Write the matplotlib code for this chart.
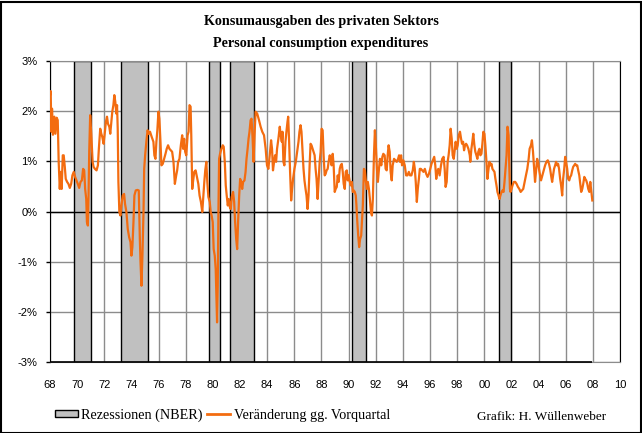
import matplotlib
matplotlib.use("Agg")
import matplotlib.pyplot as plt
from matplotlib.patches import Patch, Rectangle
from matplotlib.lines import Line2D

# %% Data (% change vs previous quarter)

years = [
    1968.00, 1968.05, 1968.10, 1968.15, 1968.22, 1968.32, 1968.40, 1968.49, 1968.57, 1968.64,
    1968.72, 1968.79, 1968.86, 1968.94, 1969.01, 1969.09, 1969.16, 1969.26, 1969.36, 1969.46,
    1969.56, 1969.65, 1969.75, 1969.85, 1969.95, 1970.05, 1970.15, 1970.25, 1970.35, 1970.44,
    1970.52, 1970.59, 1970.67, 1970.72, 1970.79, 1970.84, 1970.89, 1970.96, 1971.04, 1971.14,
    1971.21, 1971.31, 1971.43, 1971.53, 1971.60, 1971.70, 1971.78, 1971.85, 1971.95, 1972.02,
    1972.12, 1972.20, 1972.27, 1972.37, 1972.44, 1972.52, 1972.59, 1972.67, 1972.74, 1972.81,
    1972.89, 1972.94, 1972.99, 1973.04, 1973.11, 1973.19, 1973.26, 1973.36, 1973.46, 1973.53,
    1973.63, 1973.73, 1973.83, 1973.93, 1974.00, 1974.07, 1974.15, 1974.22, 1974.32, 1974.44,
    1974.54, 1974.62, 1974.67, 1974.74, 1974.81, 1974.89, 1974.94, 1975.01, 1975.11, 1975.19,
    1975.28,
    1975.37, 1975.49, 1975.62, 1975.69, 1975.77, 1975.84, 1975.91, 1975.99, 1976.06, 1976.14,
    1976.21, 1976.31, 1976.41, 1976.51, 1976.60, 1976.70, 1976.80, 1976.90, 1977.00, 1977.10,
    1977.20, 1977.30, 1977.37, 1977.44, 1977.54, 1977.64, 1977.74, 1977.81, 1977.89, 1977.96,
    1978.04, 1978.14, 1978.21, 1978.28, 1978.36, 1978.41, 1978.48, 1978.55, 1978.63, 1978.73,
    1978.83, 1978.93, 1979.02, 1979.12, 1979.22, 1979.30, 1979.37, 1979.44, 1979.52, 1979.59,
    1979.67, 1979.77, 1979.84, 1979.91, 1979.99, 1980.06, 1980.14, 1980.21, 1980.26, 1980.31,
    1980.36, 1980.41, 1980.46, 1980.53, 1980.63, 1980.73, 1980.80, 1980.88, 1980.95, 1981.02,
    1981.10, 1981.17, 1981.25, 1981.32, 1981.39, 1981.49, 1981.57, 1981.64, 1981.72, 1981.79,
    1981.86, 1981.94, 1982.01, 1982.09, 1982.16, 1982.23, 1982.33, 1982.41, 1982.48, 1982.56,
    1982.63, 1982.70, 1982.78, 1982.85, 1982.93, 1983.00, 1983.07,
    1983.15, 1983.27, 1983.40, 1983.52, 1983.64, 1983.77, 1983.89, 1983.99, 1984.09, 1984.19,
    1984.29, 1984.36, 1984.43, 1984.51, 1984.58, 1984.66, 1984.73, 1984.83, 1984.93, 1985.00,
    1985.08, 1985.13, 1985.20, 1985.27, 1985.35, 1985.42, 1985.50, 1985.55, 1985.62, 1985.69,
    1985.77, 1985.84, 1985.91, 1986.01, 1986.11, 1986.21, 1986.31, 1986.38, 1986.46, 1986.53,
    1986.61, 1986.68, 1986.75, 1986.83, 1986.90, 1986.98, 1987.05, 1987.13, 1987.20, 1987.27,
    1987.35, 1987.42, 1987.50, 1987.57, 1987.64, 1987.72, 1987.79, 1987.87, 1987.94, 1988.01,
    1988.09, 1988.16, 1988.24, 1988.31, 1988.38, 1988.46, 1988.53, 1988.61, 1988.68, 1988.75,
    1988.83, 1988.90, 1988.98, 1989.05, 1989.13, 1989.20, 1989.27, 1989.35, 1989.42, 1989.50,
    1989.57, 1989.64, 1989.72, 1989.79, 1989.87, 1989.94, 1990.01, 1990.09, 1990.16, 1990.24,
    1990.31, 1990.38, 1990.46, 1990.53, 1990.58, 1990.63, 1990.71, 1990.78, 1990.85, 1990.93,
    1991.00,
    1991.05, 1991.13, 1991.20, 1991.28, 1991.35, 1991.42, 1991.50, 1991.57, 1991.65, 1991.72,
    1991.79, 1991.87, 1991.94, 1992.02, 1992.09, 1992.16, 1992.24, 1992.31, 1992.41, 1992.49,
    1992.56, 1992.66, 1992.73, 1992.81, 1992.88, 1992.95, 1993.03, 1993.10, 1993.18, 1993.25,
    1993.35, 1993.45, 1993.55, 1993.65, 1993.72, 1993.79, 1993.87, 1993.94, 1994.04, 1994.14,
    1994.24, 1994.34, 1994.44, 1994.53, 1994.63, 1994.73, 1994.81, 1994.88, 1994.95, 1995.03,
    1995.10, 1995.18, 1995.25, 1995.33, 1995.42, 1995.52, 1995.62, 1995.72, 1995.82, 1995.92,
    1996.02, 1996.11, 1996.21, 1996.31, 1996.39, 1996.46, 1996.53, 1996.61, 1996.71, 1996.81,
    1996.90, 1997.00, 1997.08, 1997.15, 1997.23, 1997.30, 1997.37, 1997.45, 1997.52, 1997.60,
    1997.67, 1997.75, 1997.82, 1997.89, 1997.97, 1998.04, 1998.12, 1998.21, 1998.29, 1998.36,
    1998.44, 1998.51, 1998.58, 1998.66, 1998.73, 1998.83, 1998.93,
    1998.97, 1999.05, 1999.12, 1999.19, 1999.27, 1999.34, 1999.42, 1999.49, 1999.56, 1999.64,
    1999.71, 1999.79, 1999.86, 1999.93, 2000.01, 2000.08, 2000.16, 2000.23, 2000.30, 2000.38,
    2000.45, 2000.53, 2000.60, 2000.68, 2000.75, 2000.82, 2000.90, 2000.97, 2001.05, 2001.12,
    2001.19, 2001.27, 2001.34, 2001.42, 2001.49, 2001.56, 2001.64, 2001.71, 2001.79, 2001.84,
    2001.89, 2001.93, 2002.01, 2002.08, 2002.18, 2002.28, 2002.38, 2002.48, 2002.58, 2002.68,
    2002.77, 2002.87, 2002.97, 2003.07, 2003.17, 2003.27, 2003.34, 2003.44, 2003.51, 2003.59,
    2003.66, 2003.74, 2003.81, 2003.89, 2003.96, 2004.03, 2004.11, 2004.18, 2004.28, 2004.38,
    2004.48, 2004.58, 2004.68, 2004.77, 2004.85, 2004.92, 2005.00, 2005.07, 2005.14, 2005.22,
    2005.29, 2005.37, 2005.44, 2005.51, 2005.59, 2005.66, 2005.74, 2005.81, 2005.89, 2005.96,
    2006.03, 2006.11, 2006.18, 2006.26, 2006.33, 2006.40, 2006.48, 2006.55, 2006.63, 2006.70,
    2006.77, 2006.85, 2006.92, 2007.00, 2007.07, 2007.14, 2007.22, 2007.29, 2007.37, 2007.44,
    2007.51, 2007.59, 2007.66, 2007.74, 2007.81, 2007.89, 2007.96,
]

change = [
    2.32, 2.40, 1.59, 2.05, 1.53, 1.89, 1.55, 1.87, 1.82, 0.99,
    0.45, 0.79, 0.45, 1.12, 1.12, 0.89, 0.65, 0.59, 0.55, 0.47,
    0.55, 0.72, 0.79, 0.69, 0.62, 0.55, 0.47, 0.59, 0.62, 0.85,
    0.82, 0.45, 0.25, -0.21, -0.28, 0.32, 1.19, 1.92, 1.55, 0.99,
    0.89, 0.85, 0.82, 0.92, 1.25, 1.65, 1.55, 1.49, 1.35, 1.52,
    1.79, 1.89, 1.75, 1.69, 1.55, 1.79, 1.99, 2.12, 2.32, 2.19,
    1.95, 2.12, 1.65, 0.59, -0.01, -0.08, 0.12, 0.32, 0.35, 0.15,
    -0.01, -0.35, -0.51, -0.61, -0.88, -0.71, -0.21, 0.32, 0.42, 0.43,
    0.42, -0.55, -1.01, -1.48, -0.88, -0.01, 0.85, 1.12, 1.42, 1.62,
    1.55,
    1.59, 1.49, 1.39, 1.12, 1.05, 1.39, 1.62, 1.99, 1.85, 1.39,
    0.92, 0.95, 1.05, 1.15, 1.25, 1.32, 1.25, 1.22, 1.19, 0.99,
    0.55, 0.72, 0.82, 0.99, 1.05, 1.32, 1.52, 1.25, 1.45, 1.19,
    1.12, 1.52, 1.59, 2.12, 2.09, 1.52, 0.45, 0.62, 0.79, 0.82,
    0.69, 0.55, 0.32, 0.19, -0.01, 0.32, 0.59, 0.82, 0.99, 0.59,
    0.29, 0.19, -0.01, -0.08, -0.21, -0.75, -0.88, -1.15, -1.68, -2.21,
    -1.48, -0.01, 1.05, 1.15, 1.25, 1.32, 1.29, 0.99, 0.52, 0.32,
    0.12, 0.25, 0.09, 0.05, 0.29, 0.39, 0.19, -0.21, -0.55, -0.75,
    -0.21, 0.32, 0.65, 0.59, 0.45, 0.59, 0.62, 0.79, 1.05, 1.25,
    1.45, 1.59, 1.82, 1.85, 1.45, 0.99, 1.52,
    1.99, 1.95, 1.82, 1.69, 1.59, 1.52, 1.25, 0.92, 0.85, 1.12,
    1.42, 1.25, 0.82, 0.99, 1.12, 0.99, 1.25, 1.45, 1.69, 1.52,
    1.39, 1.59, 0.99, 0.92, 1.39, 1.59, 1.79, 1.89, 1.39, 0.79,
    0.22, 0.45, 0.65, 0.85, 0.99, 1.19, 1.39, 1.59, 1.72, 1.59,
    1.19, 0.85, 0.62, 0.45, 0.32, 0.05, 0.32, 0.92, 1.35, 1.32,
    1.25, 1.19, 1.12, 0.85, 0.65, 0.25, 0.59, 0.99, 1.19, 1.65,
    1.62, 1.12, 0.72, 0.75, 0.82, 0.85, 0.99, 1.12, 1.05, 0.92,
    1.15, 0.92, 0.39, 0.45, 0.49, 0.72, 0.59, 0.85, 0.92, 0.95,
    0.79, 0.55, 0.45, 0.79, 0.82, 0.62, 0.72, 0.59, 0.52, 0.59,
    0.39, 0.42, 0.39, 0.32, 0.12, -0.15, -0.48, -0.71, -0.55, -0.48,
    -0.15,
    0.12, 0.85, 0.82, 0.59, 0.45, 0.59, 0.45, 0.25, -0.01, -0.08,
    0.25, 1.12, 1.62, 1.25, 0.85, 0.59, 0.85, 1.05, 0.92, 1.09,
    1.15, 1.12, 0.85, 0.82, 1.12, 1.32, 1.19, 0.79, 0.62, 0.92,
    1.05, 1.02, 0.99, 1.05, 1.12, 0.99, 1.12, 0.92, 1.02, 0.92,
    0.72, 0.72, 0.79, 0.72, 0.72, 0.82, 0.99, 0.85, 0.59, 0.19,
    0.45, 0.65, 0.85, 0.85, 0.82, 0.79, 0.85, 0.75, 0.69, 0.75,
    0.85, 0.95, 1.02, 1.09, 0.92, 0.65, 0.79, 0.85, 0.72, 0.92,
    1.05, 1.09, 0.85, 0.49, 0.59, 0.99, 1.12, 1.32, 1.65, 1.45,
    1.12, 1.05, 1.22, 1.39, 1.25, 1.32, 1.52, 1.59, 1.45, 1.35,
    1.39, 1.22, 1.32, 1.35, 1.32, 1.25, 1.12,
    0.99, 1.25, 1.39, 1.55, 1.32, 1.19, 1.12, 1.05, 1.19, 1.25,
    1.12, 1.15, 1.35, 1.59, 1.55, 1.32, 0.99, 0.65, 0.82, 0.99,
    0.92, 0.95, 0.85, 0.82, 0.79, 0.65, 0.52, 0.39, 0.32, 0.25,
    0.32, 0.39, 0.42, 0.39, 0.59, 0.85, 1.12, 1.69, 1.52, 0.92,
    0.45, 0.39, 0.45, 0.52, 0.59, 0.59, 0.55, 0.49, 0.45, 0.39,
    0.42, 0.45, 0.59, 0.72, 0.85, 1.05, 1.25, 1.32, 1.42, 1.19,
    0.92, 0.59, 0.79, 1.05, 0.99, 0.85, 0.72, 0.62, 0.72, 0.82,
    0.92, 0.99, 1.02, 0.95, 0.85, 0.72, 0.59, 0.72, 0.85, 0.92,
    0.99, 0.92, 0.95, 0.85, 0.65, 0.52, 0.32, 0.65, 0.85, 1.09,
    0.99, 0.85, 0.65, 0.62, 0.69, 0.72, 0.82, 0.89, 0.92, 0.95,
    0.92, 0.92, 0.82, 0.72, 0.55, 0.39, 0.45, 0.55, 0.69, 0.65,
    0.62, 0.55, 0.45, 0.39, 0.59, 0.39, 0.22,
]

# NBER recessions as drawn in the chart
rec_start = [1969.8, 1973.25, 1979.75, 1981.25, 1990.28, 2001.05]
rec_end = [1971.0, 1975.22, 1980.5, 1983.0, 1991.25, 2002.0]

x_ticks = list(range(1968, 2011, 2))
y_ticks = [3, 2, 1, 0, -1, -2, -3]

title1 = "Konsumausgaben des privaten Sektors"
title2 = "Personal consumption expenditures"
label_rec = "Rezessionen (NBER)"
label_line = "Veränderung gg. Vorquartal"
credit = "Grafik: H. Wüllenweber"

orange = "#f36c10"
grid_grey = "#8c8c8c"
rec_grey = "#c0c0c0"
serif = "Liberation Serif"
sans = "Liberation Sans"

# %% Figure

W, H = 642, 433
fig = plt.figure(figsize=(W / 100, H / 100), dpi=100)
fig.patch.set_facecolor("white")
fig.patches.append(Rectangle((0.5 / W, 0.5 / H), 1 - 2 / W, 1 - 2 / H,
                             transform=fig.transFigure, fill=False,
                             edgecolor="black", linewidth=1.5))

ax = fig.add_axes([50 / W, 1 - 362 / H, 570 / W, 301 / H])
ax.set_xlim(1968, 2010)
ax.set_ylim(-3, 3)

# grid
for y in y_ticks:
    ax.axhline(y, color=grid_grey, linewidth=1, zorder=1)
for x in x_ticks:
    ax.axvline(x, color=grid_grey, linewidth=1, zorder=1)

# recessions
for a, b in zip(rec_start, rec_end):
    ax.axvspan(a, b, facecolor=rec_grey, edgecolor="black", linewidth=1, zorder=2)

ax.axhline(0, color="black", linewidth=1, zorder=3)
ax.plot(years, change, color=orange, linewidth=1.6, zorder=4)

# axis lines: black bottom up to the end of the data, grey after
for side in ["top", "bottom"]:
    ax.spines[side].set_color(grid_grey)
ax.spines["left"].set_color("black")
ax.spines["right"].set_color("black")
ax.hlines(-3, years[0], years[-1], color="black", linewidth=1.2, zorder=5, clip_on=False)

ax.set_yticks(y_ticks)
ax.set_yticklabels([f"{v}%" for v in y_ticks], fontfamily=sans, fontsize=8)
ax.set_xticks(x_ticks)
ax.set_xticklabels([f"{x % 100:02d}" for x in x_ticks], fontfamily=sans, fontsize=8)
ax.tick_params(axis="y", length=3, width=1, pad=6, color="black")
ax.tick_params(axis="x", length=0, pad=13)

fig.text(0.5, 1 - 21 / H, title1, ha="center", va="center",
         fontfamily=serif, fontweight="bold", fontsize=10.2)
fig.text(0.5, 1 - 43 / H, title2, ha="center", va="center",
         fontfamily=serif, fontweight="bold", fontsize=10.2)

handles = [Patch(facecolor=rec_grey, edgecolor="black", linewidth=1, label=label_rec),
           Line2D([], [], color=orange, linewidth=2, label=label_line)]
fig.legend(handles=handles, loc="center left", bbox_to_anchor=(55 / W, 1 - 415 / H),
           ncol=2, frameon=False, prop={"family": serif, "size": 10.2},
           handlelength=1.62, handleheight=0.45, handletextpad=0.25, columnspacing=0.3,
           borderaxespad=0, borderpad=0)

fig.text(477 / W, 1 - 417 / H, credit, ha="left", va="center",
         fontfamily=serif, fontsize=9.5)

fig.savefig("out.png", dpi=100)
